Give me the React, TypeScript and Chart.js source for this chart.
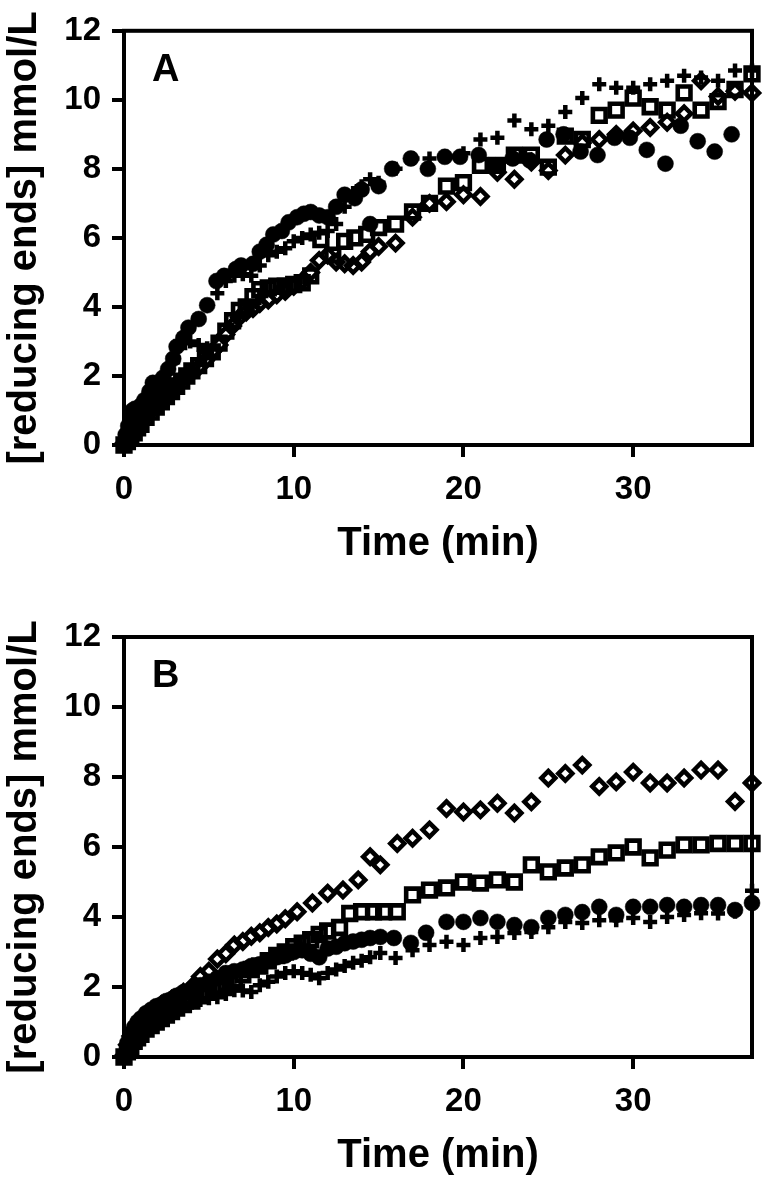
import React, { useEffect, useRef } from "react";
import { Chart, registerables } from "chart.js";

Chart.register(...registerables);

const FONT = "'Liberation Sans', Arial, Helvetica, sans-serif";

// ---- axis content ----
const xTickValues = [0, 10, 20, 30];
const yTickValues = [0, 2, 4, 6, 8, 10, 12];
const xTitle = "Time (min)";
const yTitle = "[reducing ends] mmol/L";
const xMax = 37;
const yMax = 12;

// ---- Panel A ----
const aCircleT = [0, 0.1, 0.25, 0.4, 0.5, 0.65, 0.8, 1.0, 1.2, 1.5, 1.7, 2.0, 2.3, 2.6, 2.9, 3.1, 3.5, 3.8, 4.4, 4.9, 5.45, 5.9, 6.6, 6.9, 7.6, 8.0, 8.4, 8.8, 9.3, 9.7, 10.2, 10.6, 11.0, 11.5, 12.0, 12.5, 13.0, 13.6, 14.0, 14.5, 15.0, 15.8, 16.9, 17.9, 18.9, 19.8, 20.9, 21.9, 22.9, 23.9, 24.9, 25.9, 26.9, 27.9, 28.9, 29.8, 30.8, 31.9, 32.8, 33.8, 34.8, 35.8];
const aCircleV = [0, 0.3, 0.55, 0.8, 1.0, 1.05, 0.95, 1.15, 1.3, 1.55, 1.8, 1.75, 1.95, 2.2, 2.5, 2.85, 3.1, 3.4, 3.65, 4.05, 4.75, 4.9, 5.1, 5.2, 5.25, 5.6, 5.8, 6.1, 6.2, 6.45, 6.6, 6.7, 6.75, 6.65, 6.6, 6.9, 7.25, 7.15, 7.4, 6.4, 7.5, 8.0, 8.3, 8.0, 8.35, 8.35, 8.4, 8.1, 8.3, 8.25, 8.85, 9.0, 8.5, 8.4, 8.9, 8.9, 8.55, 8.15, 9.25, 8.8, 8.5, 9.0];

const aPlusT = [0, 0.2, 0.4, 0.6, 0.8, 1.0, 1.3, 1.6, 1.9, 2.2, 2.6, 2.9, 3.3, 3.6, 3.9, 4.4, 4.9, 5.5, 6.0, 6.5, 7.0, 7.5, 8.0, 8.5, 9.0, 9.5, 10.0, 10.5, 11.0, 11.5, 12.0, 12.5, 13.0, 13.5, 14.0, 14.5, 15.0, 16.0, 17.0, 18.0, 19.0, 20.0, 21.0, 22.0, 23.0, 24.0, 25.0, 26.0, 27.0, 28.0, 29.0, 30.0, 31.0, 32.0, 33.0, 34.0, 35.0, 36.0, 37.0];
const aPlusV = [0, 0.25, 0.45, 0.6, 0.75, 0.9, 1.05, 1.25, 1.45, 1.6, 1.9, 2.4, 3.0, 2.95, 3.0, 2.9, 2.8, 4.4, 4.75, 4.9, 4.95, 4.9, 5.2, 5.5, 5.6, 5.7, 5.9, 6.0, 6.1, 6.15, 6.2, 6.4, 6.9, 7.3, 7.5, 7.7, 7.6, 8.0, 8.3, 8.3, 8.35, 8.45, 8.85, 8.9, 9.4, 9.15, 9.25, 9.65, 10.05, 10.45, 10.35, 10.35, 10.45, 10.55, 10.7, 10.65, 10.55, 10.85, 10.85];

const aSquareT = [0, 0.2, 0.4, 0.6, 0.8, 1.0, 1.3, 1.6, 1.9, 2.2, 2.5, 2.8, 3.1, 3.4, 3.7, 4.0, 4.4, 4.8, 5.2, 5.6, 6.0, 6.4, 6.8, 7.2, 7.6, 8.0, 8.5, 9.0, 9.5, 10.0, 10.5, 11.0, 11.6, 12.3, 13.0, 13.6, 14.3, 15.0, 16.0, 17.0, 18.0, 19.0, 20.0, 21.0, 22.0, 23.0, 24.0, 25.0, 26.0, 27.0, 28.0, 29.0, 30.0, 31.0, 32.0, 33.0, 34.0, 35.0, 36.0, 37.0];
const aSquareV = [0, 0.1, 0.25, 0.35, 0.5, 0.6, 0.8, 0.95, 1.1, 1.25, 1.4, 1.55, 1.7, 1.85, 2.0, 2.15, 2.3, 2.5, 2.7, 2.95, 3.3, 3.6, 3.9, 4.0, 4.3, 4.5, 4.55, 4.6, 4.6, 4.65, 4.7, 4.9, 5.95, 5.5, 5.9, 6.0, 6.1, 6.3, 6.4, 6.75, 7.0, 7.5, 7.6, 8.1, 8.1, 8.4, 8.4, 8.05, 8.95, 8.85, 9.55, 9.7, 10.05, 9.8, 9.7, 10.2, 9.7, 9.95, 10.3, 10.75];

const aDiamondT = [0, 0.2, 0.4, 0.6, 0.8, 1.0, 1.3, 1.6, 1.9, 2.2, 2.5, 2.8, 3.1, 3.4, 3.7, 4.0, 4.4, 4.8, 5.2, 5.6, 6.0, 6.4, 6.8, 7.2, 7.6, 8.0, 8.5, 9.0, 9.5, 10.0, 10.5, 11.0, 11.5, 12.0, 12.5, 13.0, 13.5, 14.0, 14.5, 15.0, 16.0, 17.0, 18.0, 19.0, 20.0, 21.0, 22.0, 23.0, 24.0, 25.0, 26.0, 27.0, 28.0, 29.0, 30.0, 31.0, 32.0, 33.0, 34.0, 35.0, 36.0, 37.0];
const aDiamondV = [0.05, 0.15, 0.3, 0.45, 0.55, 0.7, 0.85, 1.0, 1.15, 1.3, 1.45, 1.6, 1.75, 1.9, 2.0, 2.1, 2.25, 2.45, 2.7, 2.9, 3.2, 3.45, 3.7, 3.85, 3.95, 4.1, 4.2, 4.35, 4.45, 4.6, 4.75, 5.0, 5.35, 5.5, 5.3, 5.25, 5.2, 5.3, 5.6, 5.75, 5.85, 6.6, 7.0, 7.05, 7.25, 7.2, 7.9, 7.7, 8.2, 7.95, 8.4, 8.75, 8.85, 9.0, 9.1, 9.2, 9.35, 9.6, 10.55, 10.1, 10.25, 10.2];

// ---- Panel B ----
const bCircleT = [0, 0.2, 0.4, 0.6, 0.8, 1.0, 1.3, 1.6, 1.9, 2.2, 2.5, 2.8, 3.1, 3.5, 4.0, 4.5, 5.0, 5.5, 6.0, 6.5, 7.0, 7.5, 8.0, 8.5, 9.0, 9.5, 10.0, 10.5, 11.0, 11.5, 12.0, 12.5, 13.0, 13.5, 14.0, 14.5, 15.1, 15.9, 16.9, 17.8, 19.0, 20.0, 21.0, 22.0, 23.0, 24.0, 25.0, 26.0, 27.0, 28.0, 29.0, 30.0, 31.0, 32.0, 33.0, 34.0, 35.0, 36.0, 37.0];
const bCircleV = [0, 0.4, 0.65, 0.85, 1.0, 1.1, 1.25, 1.35, 1.45, 1.5, 1.6, 1.65, 1.75, 1.85, 1.95, 2.05, 2.15, 2.25, 2.4, 2.45, 2.5, 2.6, 2.65, 2.75, 2.85, 2.9, 3.0, 3.05, 2.95, 2.85, 3.1, 3.15, 3.25, 3.3, 3.35, 3.4, 3.43, 3.4, 3.26, 3.55, 3.86, 3.86, 3.97, 3.86, 3.77, 3.71, 3.97, 4.06, 4.14, 4.29, 4.06, 4.29, 4.29, 4.34, 4.29, 4.34, 4.34, 4.2, 4.4];

const bPlusT = [0, 0.2, 0.4, 0.6, 0.8, 1.0, 1.3, 1.6, 1.9, 2.2, 2.5, 2.8, 3.1, 3.5, 4.0, 4.5, 5.0, 5.5, 6.0, 6.5, 7.0, 7.5, 8.0, 8.5, 9.0, 9.5, 10.0, 10.5, 11.0, 11.5, 12.0, 12.5, 13.0, 13.5, 14.0, 14.5, 15.1, 16.0, 17.0, 18.0, 19.0, 20.0, 21.0, 22.0, 23.0, 24.0, 25.0, 26.0, 27.0, 28.0, 29.0, 30.0, 31.0, 32.0, 33.0, 34.0, 35.0, 36.0, 37.0];
const bPlusV = [0, 0.2, 0.4, 0.55, 0.65, 0.75, 0.85, 0.95, 1.05, 1.15, 1.2, 1.3, 1.4, 1.5, 1.55, 1.63, 1.68, 1.71, 1.8, 1.91, 1.9, 1.86, 2.05, 2.15, 2.3, 2.4, 2.45, 2.4, 2.35, 2.25, 2.4, 2.5, 2.6, 2.69, 2.75, 2.85, 2.97, 2.83, 3.05, 3.2, 3.29, 3.2, 3.4, 3.43, 3.54, 3.57, 3.71, 3.86, 3.83, 3.91, 3.91, 3.97, 3.86, 4.0, 4.06, 4.11, 4.1, 4.15, 4.75];

const bSquareT = [0, 0.2, 0.4, 0.6, 0.8, 1.0, 1.3, 1.6, 1.9, 2.2, 2.5, 2.8, 3.1, 3.5, 4.0, 4.5, 5.0, 5.5, 6.0, 6.5, 7.0, 7.5, 8.0, 8.5, 9.0, 9.5, 10.0, 10.5, 11.0, 11.5, 12.0, 12.7, 13.3, 14.0, 14.7, 15.3, 16.1, 17.0, 18.0, 19.0, 20.0, 21.0, 22.0, 23.0, 24.0, 25.0, 26.0, 27.0, 28.0, 29.0, 30.0, 31.0, 32.0, 33.0, 34.0, 35.0, 36.0, 37.0];
const bSquareV = [0, 0.15, 0.3, 0.45, 0.55, 0.65, 0.8, 0.9, 1.0, 1.1, 1.2, 1.3, 1.4, 1.5, 1.6, 1.75, 1.85, 1.95, 2.1, 2.2, 2.35, 2.5, 2.6, 2.75, 2.9, 3.0, 3.15, 3.25, 3.35, 3.5, 3.6, 3.7, 4.1, 4.15, 4.15, 4.15, 4.15, 4.63, 4.77, 4.83, 5.0, 4.97, 5.06, 5.0, 5.49, 5.29, 5.4, 5.49, 5.72, 5.83, 6.0, 5.69, 5.91, 6.06, 6.06, 6.1, 6.1, 6.1];

const bDiamondT = [0, 0.2, 0.4, 0.6, 0.8, 1.0, 1.3, 1.6, 1.9, 2.2, 2.5, 2.8, 3.1, 3.5, 4.0, 4.5, 5.0, 5.5, 6.0, 6.5, 7.0, 7.5, 8.0, 8.5, 9.0, 9.5, 10.2, 11.1, 12.0, 12.9, 13.8, 14.5, 15.1, 16.1, 17.0, 18.0, 19.0, 20.0, 21.0, 22.0, 23.0, 24.0, 25.0, 26.0, 27.0, 28.0, 29.0, 30.0, 31.0, 32.0, 33.0, 34.0, 35.0, 36.0, 37.0];
const bDiamondV = [0.05, 0.35, 0.6, 0.8, 0.95, 1.05, 1.2, 1.3, 1.4, 1.5, 1.55, 1.65, 1.7, 1.85, 2.0, 2.3, 2.45, 2.8, 2.95, 3.2, 3.3, 3.45, 3.55, 3.7, 3.8, 3.95, 4.15, 4.4, 4.68, 4.77, 5.06, 5.72, 5.49, 6.1, 6.25, 6.49, 7.1, 7.0, 7.06, 7.25, 6.97, 7.29, 7.97, 8.1, 8.34, 7.73, 7.86, 8.14, 7.83, 7.83, 7.97, 8.2, 8.2, 7.3, 7.83];

const toPoints = (t: number[], v: number[]) => t.map((x, i) => ({ x, y: v[i] }));

type PanelProps = {
  label: string;
  height: number;
  top: number;
  padTop: number;
  xAxisHeight: number;
  titlePadBottom: number;
  series: { t: number[]; v: number[]; shape: string }[];
};

const framePlugin = {
  id: "frame",
  beforeDatasetsDraw(chart: any) {
    const { ctx, chartArea } = chart;
    ctx.save();
    ctx.strokeStyle = "#000";
    ctx.lineWidth = 4;
    ctx.strokeRect(chartArea.left, chartArea.top, chartArea.right - chartArea.left, chartArea.bottom - chartArea.top);
    ctx.restore();
  },
};

const panelLabelPlugin = {
  id: "panelLabel",
  afterDraw(chart: any, _args: any, opts: any) {
    const { ctx, chartArea } = chart;
    ctx.save();
    ctx.fillStyle = "#000";
    ctx.font = `bold 38px ${FONT}`;
    ctx.textAlign = "left";
    ctx.textBaseline = "alphabetic";
    ctx.fillText(opts.text, chartArea.left + 28, chartArea.top + 50);
    ctx.restore();
  },
};

function styleFor(shape: string) {
  if (shape === "circle") {
    return { pointStyle: "circle", pointRadius: 8, pointBackgroundColor: "#000", pointBorderColor: "#000", pointBorderWidth: 0.5 };
  }
  if (shape === "plus") {
    return { pointStyle: "cross", pointRadius: 7, pointBackgroundColor: "#000", pointBorderColor: "#000", pointBorderWidth: 4.5 };
  }
  if (shape === "square") {
    return { pointStyle: "rect", pointRadius: 9, pointBackgroundColor: "rgba(0,0,0,0)", pointBorderColor: "#000", pointBorderWidth: 4.6 };
  }
  return { pointStyle: "rectRot", pointRadius: 7, pointBackgroundColor: "rgba(0,0,0,0)", pointBorderColor: "#000", pointBorderWidth: 4.5 };
}

function Panel(props: PanelProps) {
  const ref = useRef<HTMLCanvasElement | null>(null);
  useEffect(() => {
    if (!ref.current) return;
    const datasets = props.series.map((s) => ({
      data: toPoints(s.t, s.v),
      showLine: false,
      clip: false as any,
      ...styleFor(s.shape),
      pointHoverRadius: 0,
    }));
    const chart = new Chart(ref.current, {
      type: "scatter",
      data: { datasets: datasets as any },
      options: {
        animation: false,
        responsive: false,
        maintainAspectRatio: false,
        events: [],
        layout: { padding: { top: props.padTop, right: 20, left: 0, bottom: 0 } },
        plugins: {
          legend: { display: false },
          tooltip: { enabled: false },
          panelLabel: { text: props.label },
        } as any,
        scales: {
          x: {
            type: "linear",
            min: 0,
            max: xMax,
            afterBuildTicks: (scale: any) => {
              scale.ticks = xTickValues.map((value) => ({ value }));
            },
            afterFit: (scale: any) => {
              scale.height = props.xAxisHeight;
            },
            grid: { drawOnChartArea: false, drawTicks: true, tickLength: 12, lineWidth: 4, tickWidth: 4, color: "#000", tickColor: "#000" },
            border: { display: true, width: 4, color: "#000" },
            ticks: { color: "#000", font: { family: FONT, size: 33, weight: "bold" }, padding: 13, maxRotation: 0, autoSkip: false },
            title: {
              display: true,
              text: xTitle,
              color: "#000",
              font: { family: FONT, size: 40, weight: "bold", lineHeight: 1.1 },
              padding: { top: 0, bottom: props.titlePadBottom },
            },
          },
          y: {
            type: "linear",
            min: 0,
            max: yMax,
            afterBuildTicks: (scale: any) => {
              scale.ticks = yTickValues.map((value) => ({ value }));
            },
            afterFit: (scale: any) => {
              scale.width = 124;
            },
            grid: { drawOnChartArea: false, drawTicks: true, tickLength: 12, lineWidth: 4, tickWidth: 4, color: "#000", tickColor: "#000" },
            border: { display: true, width: 4, color: "#000" },
            ticks: { color: "#000", font: { family: FONT, size: 33, weight: "bold" }, padding: 11, autoSkip: false },
            title: {
              display: true,
              text: yTitle,
              color: "#000",
              font: { family: FONT, size: 40, weight: "bold", lineHeight: 1.1 },
              padding: { top: 3, bottom: 0 },
            },
          },
        },
      } as any,
      plugins: [framePlugin, panelLabelPlugin],
    });
    return () => chart.destroy();
  }, []);
  return (
    <canvas
      ref={ref}
      width={772}
      height={props.height}
      style={{ position: "absolute", left: 0, top: props.top, width: 772, height: props.height, display: "block" }}
    />
  );
}

export default function App() {
  return (
    <div style={{ position: "absolute", left: 0, top: 0, width: 772, height: 1183, background: "#fff", overflow: "hidden" }}>
      <Panel
        label="A"
        top={0}
        height={591}
        padTop={26}
        xAxisHeight={146}
        titlePadBottom={25}
        series={[
          { t: aSquareT, v: aSquareV, shape: "square" },
          { t: aDiamondT, v: aDiamondV, shape: "diamond" },
          { t: aPlusT, v: aPlusV, shape: "plus" },
          { t: aCircleT, v: aCircleV, shape: "circle" },
        ]}
      />
      <Panel
        label="B"
        top={591}
        height={592}
        padTop={46}
        xAxisHeight={126}
        titlePadBottom={5}
        series={[
          { t: bSquareT, v: bSquareV, shape: "square" },
          { t: bDiamondT, v: bDiamondV, shape: "diamond" },
          { t: bPlusT, v: bPlusV, shape: "plus" },
          { t: bCircleT, v: bCircleV, shape: "circle" },
        ]}
      />
    </div>
  );
}
